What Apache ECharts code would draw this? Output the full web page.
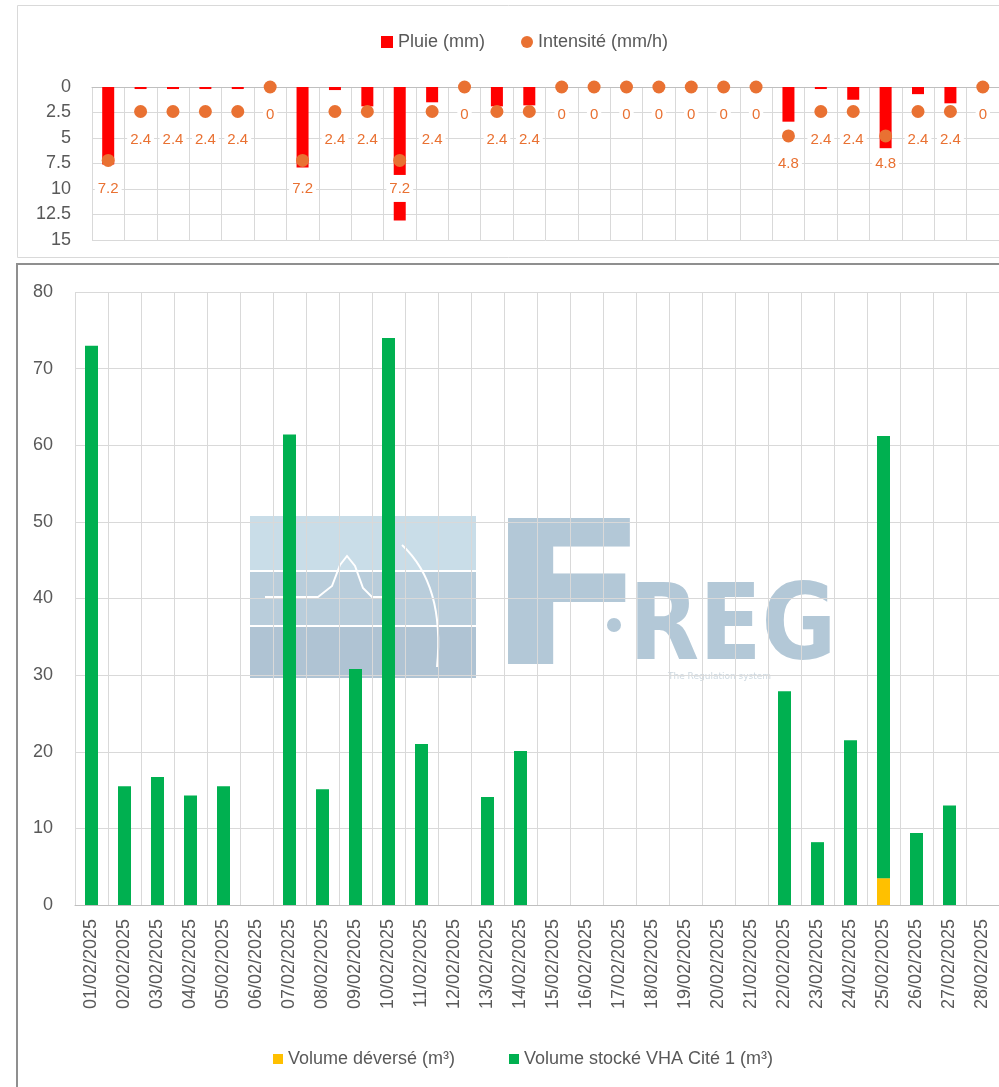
<!DOCTYPE html>
<html>
<head>
<meta charset="utf-8">
<title>Pluie et volumes VHA Cité 1 - février 2025</title>
<script src="https://cdn.jsdelivr.net/npm/echarts@6/dist/echarts.min.js"></script>
<style>
    html, body { margin: 0; padding: 0; background: #fff; overflow: hidden; }
    #chart { width: 999px; height: 1087px; }
</style>
</head>
<body>
<div id="chart"></div>
<script>
// dates du mois
const dates = [
    "01/02/2025", "02/02/2025", "03/02/2025", "04/02/2025", "05/02/2025", "06/02/2025", "07/02/2025",
    "08/02/2025", "09/02/2025", "10/02/2025", "11/02/2025", "12/02/2025", "13/02/2025", "14/02/2025",
    "15/02/2025", "16/02/2025", "17/02/2025", "18/02/2025", "19/02/2025", "20/02/2025", "21/02/2025",
    "22/02/2025", "23/02/2025", "24/02/2025", "25/02/2025", "26/02/2025", "27/02/2025", "28/02/2025"
];
// pluie (mm)
const pluie = [7.6, 0.2, 0.2, 0.2, 0.2, 0, 7.9, 0.3, 1.9, 13.1, 1.5, 0, 1.9, 1.8,
    0, 0, 0, 0, 0, 0, 0, 3.4, 0.2, 1.25, 6.0, 0.7, 1.6, 0];
// intensité (mm/h)
const intensite = [7.2, 2.4, 2.4, 2.4, 2.4, 0, 7.2, 2.4, 2.4, 7.2, 2.4, 0, 2.4, 2.4,
    0, 0, 0, 0, 0, 0, 0, 4.8, 2.4, 2.4, 4.8, 2.4, 2.4, 0];
// volume déversé (m3)
const volumeDeverse = [0, 0, 0, 0, 0, 0, 0, 0, 0, 0, 0, 0, 0, 0,
    0, 0, 0, 0, 0, 0, 0, 0, 0, 0, 3.5, 0, 0, 0];
// volume stocké VHA Cité 1 (m3)
const volumeStocke = [73.0, 15.5, 16.7, 14.3, 15.5, 0, 61.4, 15.1, 30.8, 74.0, 21.0, 0, 14.1, 20.1,
    0, 0, 0, 0, 0, 0, 0, 27.9, 8.2, 21.5, 57.7, 9.4, 13.0, 0];

const txtColor = "#595959";
const gridColor = "#d9d9d9";
const font = "Liberation Sans";
const logoColor = "#b3c8d7";

const chart = echarts.init(document.getElementById("chart"));

// logo en filigrane + cadres
const logo = [
    { type: "rect", z: -5, shape: { x: 250, y: 516, width: 226, height: 54 }, style: { fill: "#c9dde8" } },
    { type: "rect", z: -5, shape: { x: 250, y: 572, width: 226, height: 53 }, style: { fill: "#b9cddb" } },
    { type: "rect", z: -5, shape: { x: 250, y: 627, width: 226, height: 51 }, style: { fill: "#afc3d3" } },
    {
        type: "polyline", z: -4,
        shape: { points: [[265, 597], [318, 597], [332, 586], [340, 565], [347, 556], [355, 566], [363, 588], [372, 597], [384, 597]] },
        style: { stroke: "#ffffff", lineWidth: 2, fill: null }
    },
    {
        type: "bezierCurve", z: -4,
        shape: { x1: 402, y1: 545, cpx1: 445, cpy1: 585, x2: 437, y2: 667 },
        style: { stroke: "#ffffff", lineWidth: 2, fill: null }
    },
    { type: "text", z: -4, x: 486, y: 512, scaleX: 1.2, style: { text: "F", font: "bold 200px 'DejaVu Sans'", fill: logoColor } },
    { type: "circle", z: -4, shape: { cx: 614, cy: 625, r: 7 }, style: { fill: logoColor } },
    { type: "text", z: -4, x: 629, y: 578, scaleX: 0.86, style: { text: "REG", font: "bold 106px 'DejaVu Sans'", fill: logoColor } },
    { type: "text", z: -4, x: 668, y: 672, style: { text: "The Regulation system", font: "9px 'DejaVu Sans'", fill: "#cdd8e0" } },
    { type: "rect", z: 20, shape: { x: 17.5, y: 5.5, width: 1000, height: 252 }, style: { fill: null, stroke: "#d9d9d9", lineWidth: 1 } },
    { type: "rect", z: 20, shape: { x: 17, y: 264, width: 1000, height: 900 }, style: { fill: null, stroke: "#8f8f8f", lineWidth: 2 } }
];

const option = {
    animation: false,
    textStyle: { fontFamily: font },
    graphic: logo,
    legend: [
        {
            data: [{ name: "Pluie (mm)", icon: "rect" }],
            left: 376, top: 28, itemWidth: 12, itemHeight: 12,
            textStyle: { color: txtColor, fontSize: 18, fontFamily: font }
        },
        {
            data: [{ name: "Intensité (mm/h)", icon: "circle" }],
            left: 516, top: 28, itemWidth: 12, itemHeight: 12,
            textStyle: { color: txtColor, fontSize: 18, fontFamily: font }
        },
        {
            data: [{ name: "Volume déversé (m³)", icon: "rect" }],
            left: 268, top: 1045, itemWidth: 10, itemHeight: 10,
            textStyle: { color: txtColor, fontSize: 18, fontFamily: font }
        },
        {
            data: [{ name: "Volume stocké VHA Cité 1 (m³)", icon: "rect" }],
            left: 504, top: 1045, itemWidth: 10, itemHeight: 10,
            textStyle: { color: txtColor, fontSize: 18, fontFamily: font }
        }
    ],
    grid: [
        { left: 92, top: 87, width: 920, height: 153 },
        { left: 75, top: 292, width: 935, height: 613 }
    ],
    xAxis: [
        {
            gridIndex: 0, type: "category", data: dates, position: "top",
            axisLine: { show: true, lineStyle: { color: "#bfbfbf" } },
            axisTick: { show: false }, axisLabel: { show: false, interval: 0 },
            splitLine: { show: true, interval: 0, lineStyle: { color: gridColor } }
        },
        {
            gridIndex: 1, type: "category", data: dates,
            axisLine: { show: true, lineStyle: { color: "#bfbfbf" } },
            axisTick: { show: false },
            axisLabel: { rotate: 90, interval: 0, margin: 14, color: txtColor, fontSize: 18, fontFamily: font },
            splitLine: { show: true, interval: 0, lineStyle: { color: gridColor } }
        }
    ],
    yAxis: [
        {
            gridIndex: 0, type: "value", inverse: true, min: 0, max: 15, interval: 2.5,
            axisLabel: { color: txtColor, fontSize: 18, margin: 21, fontFamily: font },
            splitLine: { lineStyle: { color: gridColor } }
        },
        {
            gridIndex: 1, type: "value", min: 0, max: 80, interval: 10,
            axisLabel: { color: txtColor, fontSize: 18, margin: 22, fontFamily: font },
            splitLine: { lineStyle: { color: gridColor } }
        }
    ],
    series: [
        {
            name: "Pluie (mm)", type: "bar", xAxisIndex: 0, yAxisIndex: 0,
            data: pluie, barWidth: 12,
            itemStyle: { color: "#ff0000" }
        },
        {
            name: "Intensité (mm/h)", type: "scatter", xAxisIndex: 0, yAxisIndex: 0,
            data: intensite, symbol: "circle", symbolSize: 13,
            itemStyle: { color: "#e97132", opacity: 1 },
            label: {
                show: true, position: "inside", offset: [0, 28],
                color: "#e97132", fontSize: 15, fontFamily: font,
                backgroundColor: "#ffffff", padding: [6, 3]
            }
        },
        {
            name: "Volume déversé (m³)", type: "bar", xAxisIndex: 1, yAxisIndex: 1,
            stack: "volume", data: volumeDeverse, barWidth: 13,
            itemStyle: { color: "#ffc000" }
        },
        {
            name: "Volume stocké VHA Cité 1 (m³)", type: "bar", xAxisIndex: 1, yAxisIndex: 1,
            stack: "volume", data: volumeStocke, barWidth: 13,
            itemStyle: { color: "#00b050" }
        }
    ]
};

chart.setOption(option);
</script>
</body>
</html>
